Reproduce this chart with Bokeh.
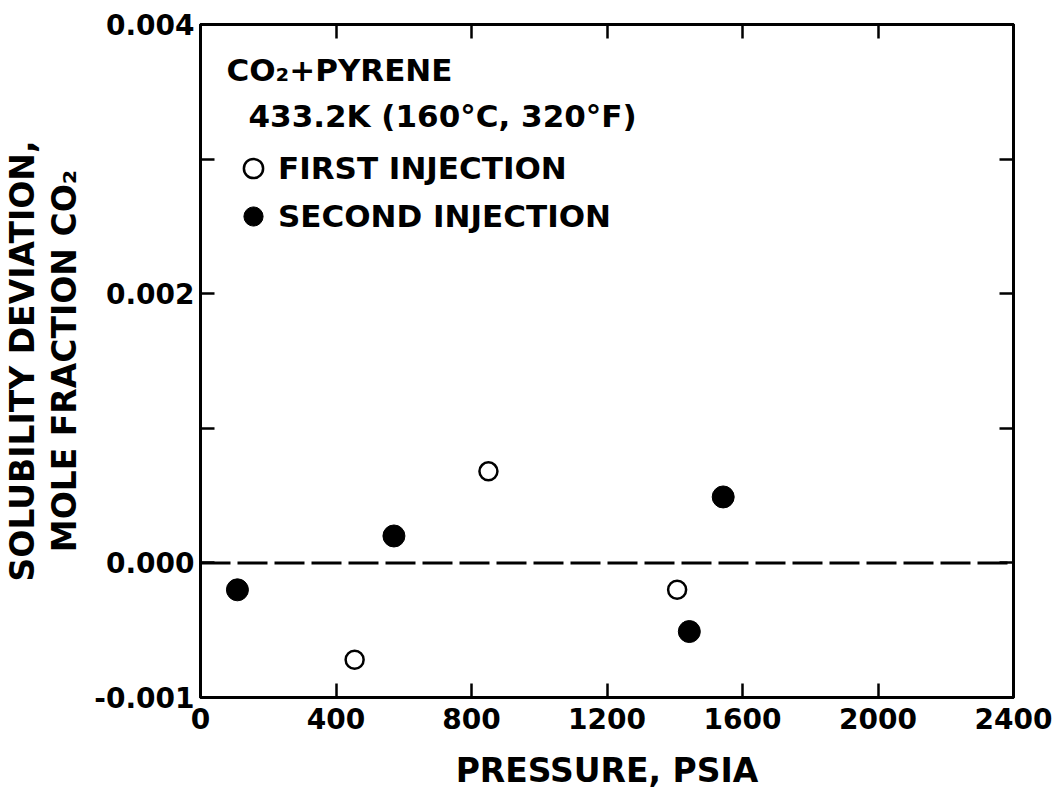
from bokeh.plotting import figure
from bokeh.models import (Range1d, LinearAxis, FixedTicker, PrintfTickFormatter,
                          Span, Label, Legend, LegendItem)
from bokeh.embed import file_html
from bokeh.resources import INLINE

# ---- data ----
first_pressure = [455, 850, 1407]
first_dev = [-0.00072, 0.00068, -0.00020]
second_pressure = [109, 571, 1443, 1543]
second_dev = [-0.00020, 0.00020, -0.00051, 0.00049]

x_ticks = [0, 400, 800, 1200, 1600, 2000, 2400]
y_major_ticks = [-0.001, 0.0, 0.002, 0.004]
y_minor_ticks = [0.001, 0.003]
y_all_ticks = [-0.001, 0.0, 0.001, 0.002, 0.003, 0.004]
x_limits = (0, 2400)
y_limits = (-0.001, 0.004)
zero_level = 0.0

title_line1 = "CO\u2082+PYRENE"
title_line2 = "433.2K (160\u00b0C, 320\u00b0F)"
legend_labels = ["FIRST INJECTION", "SECOND INJECTION"]
x_title = "PRESSURE, PSIA"
y_title = "SOLUBILITY DEVIATION,\nMOLE FRACTION CO\u2082"

FONT = "DejaVu Sans"

p = figure(width=1060, height=805, output_backend="svg", toolbar_location=None,
           x_range=Range1d(*x_limits), y_range=Range1d(*y_limits),
           min_border_left=199, min_border_right=47, min_border_top=24,
           min_border_bottom=108)
p.grid.visible = False
p.outline_line_color = "black"
p.outline_line_width = 3
p.background_fill_color = "white"
p.border_fill_color = "white"


def style(ax):
    ax.axis_line_width = 3
    ax.axis_line_color = "black"
    ax.major_tick_in = 14
    ax.major_tick_out = 0
    ax.minor_tick_in = 14
    ax.minor_tick_out = 0
    ax.major_tick_line_width = 2.5
    ax.minor_tick_line_width = 2.5
    ax.major_tick_line_color = "black"
    ax.minor_tick_line_color = "black"
    ax.major_label_text_font = FONT
    ax.major_label_text_font_style = "bold"
    ax.major_label_text_color = "black"
    ax.major_label_text_font_size = "28px"


p.xaxis.ticker = FixedTicker(ticks=x_ticks, minor_ticks=[])
p.yaxis.ticker = FixedTicker(ticks=y_major_ticks, minor_ticks=y_minor_ticks)
p.yaxis.formatter = PrintfTickFormatter(format="%.3f")
style(p.xaxis[0])
style(p.yaxis[0])
p.xaxis.major_label_standoff = 10
p.yaxis.major_label_standoff = 6

p.xaxis.axis_label = x_title
p.yaxis.axis_label = y_title
for ax in (p.xaxis[0], p.yaxis[0]):
    ax.axis_label_text_font = FONT
    ax.axis_label_text_font_style = "bold"
    ax.axis_label_text_font_size = "33px"
    ax.axis_label_text_color = "black"
p.xaxis.axis_label_standoff = 19
p.yaxis.axis_label_standoff = 7
p.yaxis.axis_label_text_line_height = 1.08

# tick-only axes on top and right (minor ticks carry no labels)
top_ax = LinearAxis(ticker=FixedTicker(ticks=[], minor_ticks=x_ticks))
right_ax = LinearAxis(ticker=FixedTicker(ticks=[], minor_ticks=y_all_ticks))
style(top_ax)
style(right_ax)
p.add_layout(top_ax, "above")
p.add_layout(right_ax, "right")

p.add_layout(Span(location=zero_level, dimension="width", line_color="black",
                  line_width=3, line_dash="30 7"))

r1 = p.scatter(first_pressure, first_dev, size=18, fill_color="white",
               line_color="black", line_width=2.5)
r2 = p.scatter(second_pressure, second_dev, size=22, fill_color="black",
               line_color="black", line_width=1)

legend = Legend(items=[LegendItem(label=legend_labels[0], renderers=[r1]),
                       LegendItem(label=legend_labels[1], renderers=[r2])],
                location=(29, 457), glyph_width=48, glyph_height=48,
                spacing=0, padding=0, margin=0, label_standoff=1,
                border_line_color=None, background_fill_alpha=0,
                label_text_font=FONT, label_text_font_style="bold",
                label_text_font_size="31px", label_text_color="black")
p.add_layout(legend)

for txt, lx, ly in ((title_line1, 26, 628), (title_line2, 48, 582)):
    p.add_layout(Label(x=lx, y=ly, x_units="screen", y_units="screen", text=txt,
                       text_font=FONT, text_font_style="bold", text_font_size="31px",
                       text_color="black", text_baseline="alphabetic"))

open("out.html", "w").write(file_html(p, INLINE))
